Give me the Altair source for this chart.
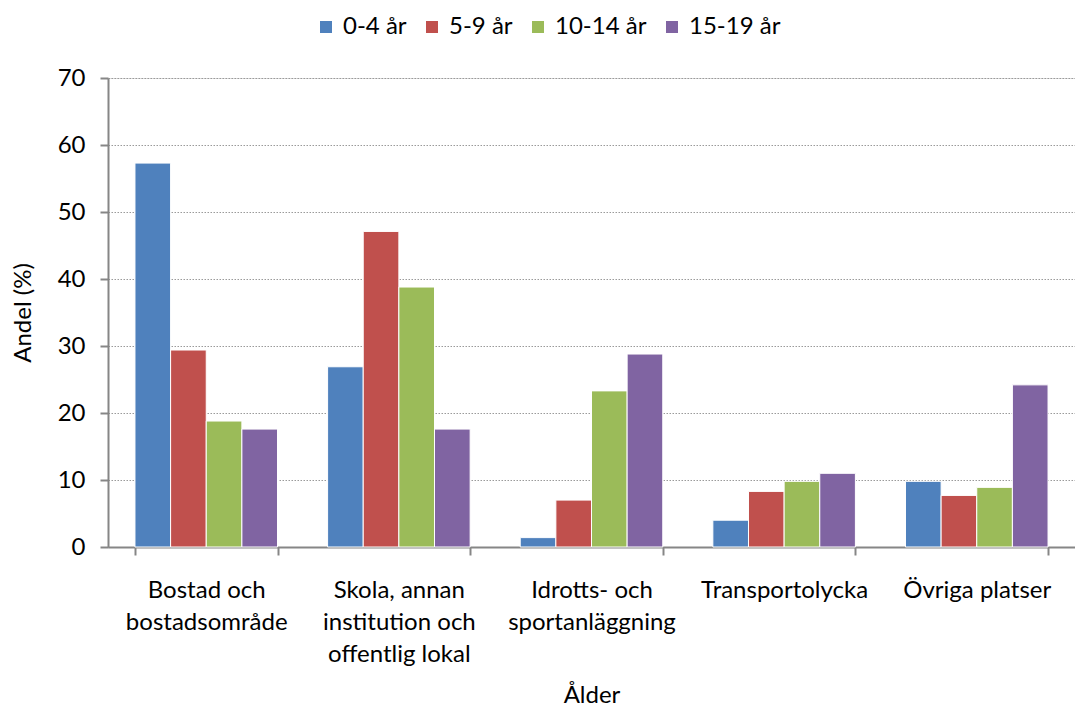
import altair as alt
import pandas as pd

categories = [
    "Bostad och|bostadsområde",
    "Skola, annan|institution och|offentlig lokal",
    "Idrotts- och|sportanläggning",
    "Transportolycka",
    "Övriga platser",
]
series = ["0-4 år", "5-9 år", "10-14 år", "15-19 år"]
colors = ["#4F81BD", "#C0504D", "#9BBB59", "#8064A2"]
v_0_4 = [57.3, 26.9, 1.4, 4.0, 9.8]
v_5_9 = [29.4, 47.1, 7.0, 8.3, 7.7]
v_10_14 = [18.8, 38.8, 23.3, 9.8, 8.9]
v_15_19 = [17.6, 17.6, 28.8, 11.0, 24.2]
y_ticks = [0, 10, 20, 30, 40, 50, 60, 70]

rows = []
for s, vals in zip(series, [v_0_4, v_5_9, v_10_14, v_15_19]):
    for c, v in zip(categories, vals):
        rows.append({"Plats": c, "Ålder": s, "Andel": v})
df = pd.DataFrame(rows)

FONT = "Lato"
FS = 24

chart = alt.Chart(df).mark_bar(stroke="white", strokeWidth=1).encode(
    x=alt.X(
        "Plats:N",
        sort=categories,
        scale=alt.Scale(paddingInner=0.26, paddingOuter=0.14),
        axis=alt.Axis(
            title="Ålder",
            labelExpr="split(datum.label, '|')",
            labelAngle=0,
            labelFontSize=FS,
            labelLineHeight=32,
            labelPadding=23,
            labelBaseline="top",
            labelColor="#000",
            tickBand="extent",
            tickSize=8,
            tickColor="#868686",
            tickWidth=2,
            domainColor="#868686",
            domainWidth=2,
            titleFontSize=FS,
            titleFontWeight="normal",
            titleColor="#000",
            titlePadding=17,
            grid=False,
        ),
    ),
    xOffset=alt.XOffset("Ålder:N", sort=series, scale=alt.Scale(paddingInner=0.0)),
    y=alt.Y(
        "Andel:Q",
        scale=alt.Scale(domain=[0, 70], nice=False),
        axis=alt.Axis(
            title="Andel (%)",
            values=y_ticks,
            labelFontSize=FS,
            labelColor="#000",
            labelPadding=15,
            tickSize=8,
            tickColor="#868686",
            tickWidth=2,
            domainColor="#868686",
            domainWidth=2,
            grid=True,
            gridDash=[1.5, 1.5],
            gridColor="#9a9a9a",
            gridWidth=1,
            titleFontSize=FS,
            titleFontWeight="normal",
            titleColor="#000",
            titlePadding=22,
        ),
    ),
    color=alt.Color(
        "Ålder:N",
        sort=series,
        scale=alt.Scale(domain=series, range=colors),
        legend=alt.Legend(
            title=None,
            orient="none",
            direction="horizontal",
            legendX=206,
            legendY=-63,
            symbolType="square",
            symbolSize=144,
            symbolStrokeWidth=0,
            labelFontSize=FS,
            labelColor="#000",
            labelOffset=5,
            columnPadding=13,
        ),
    ),
).properties(
    width=967,
    height=469,
    autosize=alt.AutoSizeParams(type="none"),
    padding={"left": 100, "top": 70, "right": 0, "bottom": 161},
).configure_view(stroke=None).configure(font=FONT)

chart.save("out.html", embed_options={"renderer": "svg", "actions": False})
